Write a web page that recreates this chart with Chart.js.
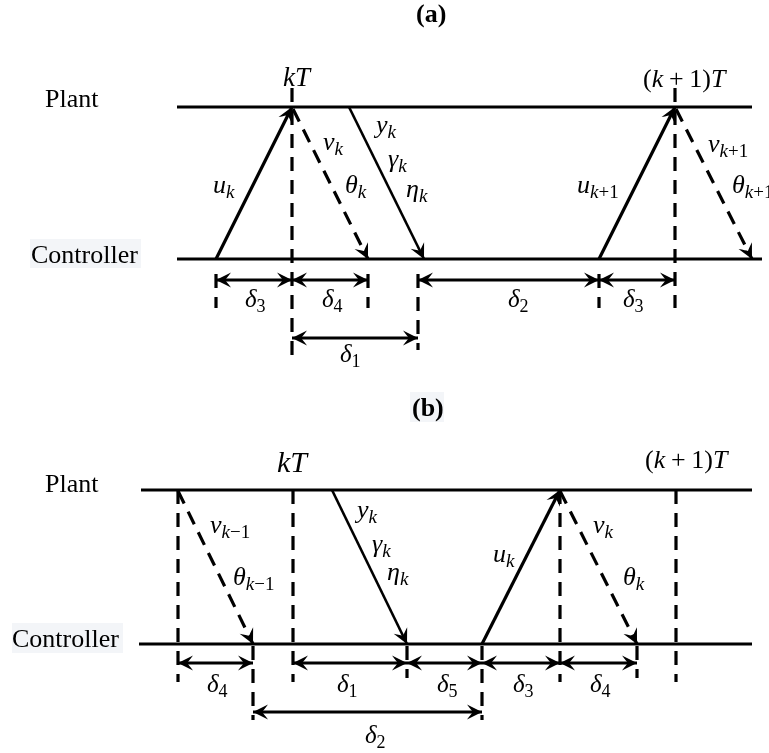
<!DOCTYPE html>
<html>
<head>
<meta charset="utf-8">
<script src="https://cdn.jsdelivr.net/npm/chart.js@4.4.3/dist/chart.umd.min.js"></script>
<style>
  html, body { margin: 0; padding: 0; background: #fff; }
  canvas { display: block; }
</style>
</head>
<body>
<canvas id="timing" width="769" height="753"></canvas>
<script>
// time lines: [t start, t end, level]  (plant / controller, panel a then b)
const lanes = [[177, 752, 107], [177, 762, 259], [141, 752, 490], [139, 752, 644]];

// transmissions drawn as solid arrows: [t0, level0, t1, level1]
const msgSolid = [
  [216, 259, 292, 107], [349, 107, 424, 259], [599, 259, 675, 107],
  [332, 490, 407, 644], [482, 644, 560, 490]
];
// acknowledgements drawn as dashed arrows
const msgDashed = [
  [293, 109, 368, 259], [676, 109, 752, 259],
  [178, 491, 253, 644], [560, 491, 637, 644]
];
// dashed instant markers: [t, level top, level bottom]
const marks = [
  [292, 88, 360], [675, 88, 308], [216, 274, 308], [368, 274, 308], [418, 274, 350], [599, 274, 308],
  [178, 490, 682], [293, 490, 682], [560, 490, 682], [676, 490, 682],
  [253, 646, 720], [407, 646, 678], [482, 646, 720], [637, 646, 678]
];
// delay spans (double-headed): [t0, t1, level]
const spans = [
  [216, 292, 280], [292, 368, 280], [418, 599, 280], [599, 675, 280], [292, 418, 338],
  [178, 253, 663], [293, 407, 663], [407, 482, 663], [482, 560, 663], [560, 637, 663], [253, 482, 712]
];

// math labels: [text, left, baseline]
const varLabels = [
  ["u_k", 213, 193], ["ν_k", 323, 150], ["θ_k", 345, 193], ["y_k", 376, 133], ["γ_k", 388, 167], ["η_k", 406, 197],
  ["u_k+1", 577, 193], ["ν_k+1", 708, 152], ["θ_k+1", 732, 193],
  ["ν_k−1", 210, 533], ["θ_k−1", 233, 585], ["y_k", 357, 518], ["γ_k", 372, 552], ["η_k", 387, 580],
  ["u_k", 493, 562], ["ν_k", 593, 533], ["θ_k", 623, 585]
];
const deltaLabels = [
  ["δ_3", 245, 307], ["δ_4", 322, 307], ["δ_2", 508, 307], ["δ_3", 623, 307], ["δ_1", 340, 362],
  ["δ_4", 207, 692], ["δ_1", 337, 692], ["δ_5", 437, 692], ["δ_3", 513, 692], ["δ_4", 590, 692], ["δ_2", 365, 743]
];
const instantLabels = [["kT", 283, 86, 27], ["(k+1)T", 643, 87, 26], ["kT", 277, 472, 30], ["(k+1)T", 645, 468, 26]];
const laneNames = [["Plant", 45, 107], ["Controller", 31, 263], ["Plant", 45, 492], ["Controller", 12, 647]];
const panelTitles = [["(a)", 416, 22], ["(b)", 412, 416]];
const shadeBoxes = [[30, 239, 141, 268], [12, 623, 123, 653], [410, 392, 444, 422]];

const DASH = [14, 9];

const line = (pts, extra) => ({
  data: pts.map(([x, y]) => ({ x, y })),
  showLine: true, pointRadius: 0, borderColor: '#000', borderWidth: 3.2,
  borderCapStyle: 'butt', clip: false, ...extra
});

const datasets = [
  ...lanes.map(([t0, t1, l]) => line([[t0, l], [t1, l]])),
  ...marks.map(([t, a, b]) => line([[t, a], [t, b]], { borderDash: DASH })),
  ...msgSolid.map(([a, b, c, d], i) => line([[a, b], [c, d]], { arrow: 'end', borderWidth: (i === 1 || i === 3) ? 2.6 : 3.2 })),
  ...msgDashed.map(([a, b, c, d]) => line([[a, b], [c, d]], { arrow: 'end', borderDash: DASH })),
  ...spans.map(([t0, t1, l]) => line([[t0, l], [t1, l]], { arrow: 'both' }))
];

const FONT = '"Liberation Serif", "Times New Roman", serif';

function arrowHead(ctx, from, tip) {
  const ang = Math.atan2(tip.y - from.y, tip.x - from.x);
  const L = 15, W = 7.5;
  ctx.save();
  ctx.translate(tip.x, tip.y);
  ctx.rotate(ang);
  ctx.beginPath();
  ctx.moveTo(0, 0);
  ctx.lineTo(-L, -W);
  ctx.quadraticCurveTo(-L * 0.7, -W * 0.2, -L * 0.6, 0);
  ctx.quadraticCurveTo(-L * 0.7, W * 0.2, -L, W);
  ctx.closePath();
  ctx.fillStyle = '#000';
  ctx.fill();
  ctx.restore();
}

// draws "main_sub" with italic letters and roman digits / signs
function drawMath(ctx, spec, x, y, size) {
  const [main, sub] = spec.split('_');
  let cx = x;
  const run = (str, sz, by, spaced) => {
    for (const ch of str) {
      const italic = /[A-Za-z\u03b1-\u03c9]/.test(ch);
      const op = ch === '+' || ch === '−';
      if (op && spaced) cx += sz * 0.22;
      ctx.font = `${italic ? 'italic ' : ''}${sz}px ${FONT}`;
      ctx.fillText(ch, cx, by);
      cx += ctx.measureText(ch).width;
      if (op && spaced) cx += sz * 0.22;
    }
  };
  run(main, size, y, true);
  if (sub) run(sub, Math.round(size * 0.72), y + size * 0.2, false);
}

const diagramPlugin = {
  id: 'diagram',
  beforeDraw(chart) {
    const { ctx, scales: { x, y } } = chart;
    ctx.save();
    ctx.fillStyle = '#fff';
    ctx.fillRect(0, 0, chart.width, chart.height);
    ctx.fillStyle = '#f3f5f8';
    shadeBoxes.forEach(([x0, y0, x1, y1]) => {
      const px = x.getPixelForValue(x0), py = y.getPixelForValue(y0);
      ctx.fillRect(px, py, x.getPixelForValue(x1) - px, y.getPixelForValue(y1) - py);
    });
    ctx.restore();
  },
  afterDatasetsDraw(chart) {
    const { ctx } = chart;
    chart.data.datasets.forEach((ds, i) => {
      if (!ds.arrow) return;
      const pts = chart.getDatasetMeta(i).data;
      const a = pts[0], b = pts[pts.length - 1];
      arrowHead(ctx, a, b);
      if (ds.arrow === 'both') arrowHead(ctx, b, a);
    });
  },
  afterDraw(chart) {
    const { ctx, scales: { x, y } } = chart;
    ctx.save();
    ctx.fillStyle = '#000';
    ctx.textBaseline = 'alphabetic';
    ctx.textAlign = 'left';
    const px = v => x.getPixelForValue(v), py = v => y.getPixelForValue(v);
    varLabels.forEach(([t, a, b]) => drawMath(ctx, t, px(a), py(b), 26));
    deltaLabels.forEach(([t, a, b]) => drawMath(ctx, t, px(a), py(b), 25));
    instantLabels.forEach(([t, a, b, s]) => drawMath(ctx, t, px(a), py(b), s));
    ctx.font = `26px ${FONT}`;
    laneNames.forEach(([t, a, b]) => ctx.fillText(t, px(a), py(b)));
    ctx.font = `bold 26px ${FONT}`;
    panelTitles.forEach(([t, a, b]) => ctx.fillText(t, px(a), py(b)));
    ctx.restore();
  }
};

new Chart(document.getElementById('timing'), {
  type: 'scatter',
  data: { datasets },
  options: {
    responsive: false,
    animation: false,
    events: [],
    layout: { padding: 0 },
    plugins: { legend: { display: false }, tooltip: { enabled: false } },
    scales: {
      x: { type: 'linear', min: 0, max: 769, display: false },
      y: { type: 'linear', min: 0, max: 753, reverse: true, display: false }
    }
  },
  plugins: [diagramPlugin]
});
</script>
</body>
</html>
